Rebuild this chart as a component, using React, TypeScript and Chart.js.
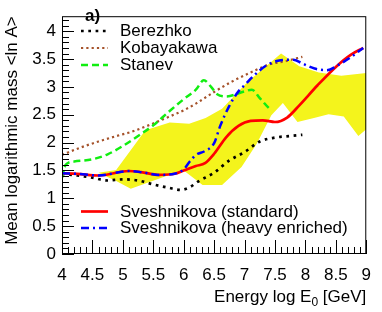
import React, { useEffect, useRef } from 'react';
import { Chart, registerables } from 'chart.js';

Chart.register(...registerables);

const xTicks = [4, 4.5, 5, 5.5, 6, 6.5, 7, 7.5, 8, 8.5, 9];
const yTicks = [0, 0.5, 1, 1.5, 2, 2.5, 3, 3.5, 4];
const X_MIN = 4;
const X_MAX = 9;
const Y_MIN = 0;
const Y_MAX = 4.27;

const xTitleMain = 'Energy log E';
const xTitleSub = '0';
const xTitleEnd = ' [GeV]';
const yTitle = 'Mean logarithmic mass <ln A>';
const panelLabel = 'a)';

// Yellow band (upper edge, lower edge)
const bandUpperX = [4.6, 4.89, 5.37, 5.77, 6.09, 6.36, 6.63, 7.04, 7.6, 7.9, 8.22, 8.59, 9.0];
const bandUpperY = [1.46, 1.51, 2.22, 2.36, 2.34, 2.44, 2.61, 3.08, 3.6, 3.37, 3.26, 3.2, 3.25];
const bandLowerX = [4.6, 4.89, 5.13, 5.99, 6.31, 6.63, 6.95, 7.2, 7.44, 7.63, 7.87, 8.14, 8.38, 8.63, 8.87, 9.0];
const bandLowerY = [1.46, 1.31, 1.17, 1.51, 1.24, 1.24, 1.56, 1.98, 2.49, 2.71, 2.37, 2.44, 2.51, 2.47, 2.12, 2.24];

// Berezhko
const berezhkoX = [4.0, 4.25, 4.5, 4.75, 5.0, 5.25, 5.5, 5.75, 5.95, 6.1, 6.25, 6.5, 6.75, 7.0, 7.25, 7.5, 7.75, 7.95];
const berezhkoY = [1.44, 1.41, 1.37, 1.32, 1.34, 1.32, 1.25, 1.19, 1.15, 1.2, 1.31, 1.46, 1.68, 1.83, 2.02, 2.09, 2.12, 2.14];

// Kobayakawa
const kobayakawaX = [4.0, 4.3, 4.6, 4.9, 5.13, 5.4, 5.77, 6.0, 6.2, 6.5, 6.8, 7.1, 7.4, 7.7, 7.95];
const kobayakawaY = [1.78, 1.91, 2.02, 2.12, 2.19, 2.3, 2.47, 2.58, 2.7, 2.91, 3.1, 3.26, 3.4, 3.47, 3.54];

// Stanev
const stanevX = [4.0, 4.06, 4.2, 4.5, 4.75, 5.0, 5.25, 5.5, 5.75, 6.0, 6.2, 6.33, 6.45, 6.55, 6.7, 7.0, 7.12, 7.25, 7.4, 7.45];
const stanevY = [1.37, 1.6, 1.66, 1.7, 1.79, 1.94, 2.12, 2.31, 2.55, 2.78, 2.95, 3.12, 3.0, 2.87, 2.83, 2.92, 2.95, 2.8, 2.62, 2.58];

// Sveshnikova (standard)
const standardX = [4.0, 4.25, 4.6, 5.1, 5.3, 5.6, 5.85, 6.0, 6.2, 6.35, 6.5, 6.7, 6.9, 7.1, 7.3, 7.5, 7.7, 7.9, 8.2, 8.5, 8.75, 8.95];
const standardY = [1.45, 1.44, 1.41, 1.49, 1.47, 1.42, 1.44, 1.5, 1.58, 1.63, 1.8, 2.1, 2.3, 2.39, 2.4, 2.37, 2.45, 2.67, 3.03, 3.36, 3.58, 3.7];

// Sveshnikova (heavy enriched)
const heavyX = [4.0, 4.25, 4.6, 5.1, 5.3, 5.6, 5.85, 6.0, 6.1, 6.2, 6.35, 6.5, 6.6, 6.75, 6.9, 7.0, 7.15, 7.35, 7.55, 7.8, 7.95, 8.15, 8.35, 8.55, 8.7, 8.95];
const heavyY = [1.45, 1.44, 1.41, 1.49, 1.47, 1.42, 1.44, 1.52, 1.66, 1.78, 1.85, 1.99, 2.3, 2.66, 2.92, 3.03, 3.2, 3.38, 3.47, 3.49, 3.42, 3.33, 3.3, 3.4, 3.5, 3.7];

const FONT = '"Liberation Sans", Arial, Helvetica, sans-serif';

const styles = {
  berezhko: { color: '#000000', width: 2.7, dash: [2.7, 4.6] },
  kobayakawa: { color: '#a5522a', width: 2.2, dash: [2.2, 3.1] },
  stanev: { color: '#11ee11', width: 2.5, dash: [7, 4] },
  standard: { color: '#ff0000', width: 2.7, dash: [] as number[] },
  heavy: { color: '#0000ff', width: 2.5, dash: [8, 4, 2, 4] },
};

const legendTop = [
  { label: 'Berezhko', style: styles.berezhko, y: 31 },
  { label: 'Kobayakawa', style: styles.kobayakawa, y: 48 },
  { label: 'Stanev', style: styles.stanev, y: 65 },
];
const legendBottom = [
  { label: 'Sveshnikova (standard)', style: styles.standard, y: 211.5 },
  { label: 'Sveshnikova (heavy enriched)', style: styles.heavy, y: 228 },
];

const zip = (xs: number[], ys: number[]) => xs.map((x, i) => ({ x, y: ys[i] }));
const fmt = (v: any) => String(Number(v));

const framePlugin = {
  id: 'rootFrame',
  afterDatasetsDraw(chart: any) {
    const { ctx, chartArea } = chart;
    const xs = chart.scales.x;
    const ys = chart.scales.y;
    ctx.save();
    ctx.strokeStyle = '#000';
    ctx.lineWidth = 1;
    ctx.setLineDash([]);
    ctx.strokeRect(chartArea.left + 0.5, chartArea.top + 0.5, chartArea.right - chartArea.left - 1, chartArea.bottom - chartArea.top - 1);
    for (let i = 0; i <= 50; i++) {
      const v = X_MIN + i * 0.1;
      const px = Math.round(xs.getPixelForValue(v)) + 0.5;
      const len = i % 5 === 0 ? 14 : 7;
      ctx.beginPath();
      ctx.moveTo(px, chartArea.bottom);
      ctx.lineTo(px, chartArea.bottom - len);
      ctx.stroke();
    }
    for (let i = 0; i <= 42; i++) {
      const v = Y_MIN + i * 0.1;
      const py = Math.round(ys.getPixelForValue(v)) + 0.5;
      const len = i % 5 === 0 ? 12 : 7;
      ctx.beginPath();
      ctx.moveTo(chartArea.left, py);
      ctx.lineTo(chartArea.left + len, py);
      ctx.stroke();
    }
    ctx.restore();
  },
  afterDraw(chart: any) {
    const { ctx, chartArea } = chart;
    ctx.save();
    ctx.fillStyle = '#000';
    ctx.save();
    ctx.translate(16.5, chartArea.top);
    ctx.rotate(-Math.PI / 2);
    ctx.font = `17px ${FONT}`;
    ctx.textAlign = 'right';
    ctx.textBaseline = 'alphabetic';
    ctx.fillText(yTitle, 0, 0);
    ctx.restore();
    ctx.textBaseline = 'alphabetic';
    ctx.textAlign = 'left';
    ctx.font = `17px ${FONT}`;
    const w1 = ctx.measureText(xTitleMain).width;
    const w3 = ctx.measureText(xTitleEnd).width;
    ctx.font = `12px ${FONT}`;
    const w2 = ctx.measureText(xTitleSub).width;
    const baseY = 301.5;
    const x0 = chartArea.right - (w1 + w2 + w3);
    ctx.font = `17px ${FONT}`;
    ctx.fillText(xTitleMain, x0, baseY);
    ctx.font = `12px ${FONT}`;
    ctx.fillText(xTitleSub, x0 + w1, baseY + 4);
    ctx.font = `17px ${FONT}`;
    ctx.fillText(xTitleEnd, x0 + w1 + w2, baseY);
    ctx.font = `bold 17px ${FONT}`;
    ctx.fillText(panelLabel, 85, 21);
    const drawEntry = (e: any) => {
      ctx.save();
      ctx.strokeStyle = e.style.color;
      ctx.lineWidth = e.style.width;
      ctx.setLineDash(e.style.dash);
      ctx.beginPath();
      ctx.moveTo(81, e.y);
      ctx.lineTo(108, e.y);
      ctx.stroke();
      ctx.restore();
      ctx.font = `17px ${FONT}`;
      ctx.textBaseline = 'middle';
      ctx.fillText(e.label, 120, e.y + 0.5);
    };
    legendTop.forEach(drawEntry);
    legendBottom.forEach(drawEntry);
    ctx.restore();
  },
};

function lineDs(label: string, xs: number[], ys: number[], st: any, order: number) {
  return {
    label,
    data: zip(xs, ys),
    showLine: true,
    borderColor: st.color,
    borderWidth: st.width,
    borderDash: st.dash,
    pointRadius: 0,
    fill: false,
    cubicInterpolationMode: 'monotone',
    order,
  } as any;
}

export default function App() {
  const ref = useRef<HTMLCanvasElement | null>(null);
  useEffect(() => {
    document.body.style.margin = '0';
    const canvas = ref.current;
    if (!canvas) return;
    const bandPoly = [
      ...zip(bandUpperX, bandUpperY),
      ...zip(bandLowerX, bandLowerY).reverse(),
    ];
    const chart = new Chart(canvas, {
      type: 'scatter',
      data: {
        datasets: [
          lineDs('Sveshnikova (heavy enriched)', heavyX, heavyY, styles.heavy, 0),
          lineDs('Sveshnikova (standard)', standardX, standardY, styles.standard, 1),
          lineDs('Stanev', stanevX, stanevY, styles.stanev, 2),
          lineDs('Kobayakawa', kobayakawaX, kobayakawaY, styles.kobayakawa, 3),
          lineDs('Berezhko', berezhkoX, berezhkoY, styles.berezhko, 4),
          {
            label: 'band',
            data: bandPoly,
            showLine: true,
            borderWidth: 0,
            borderColor: 'rgba(0,0,0,0)',
            backgroundColor: '#f4f41c',
            pointRadius: 0,
            fill: 'shape',
            tension: 0,
            order: 10,
          } as any,
        ],
      },
      options: {
        animation: false,
        responsive: false,
        devicePixelRatio: 1,
        layout: { padding: { top: 2, right: 6, left: 0, bottom: 0 } },
        plugins: { legend: { display: false }, tooltip: { enabled: false } },
        scales: {
          x: {
            type: 'linear',
            min: X_MIN,
            max: X_MAX,
            afterBuildTicks: (s: any) => { s.ticks = xTicks.map((v) => ({ value: v })); },
            afterFit: (s: any) => { s.height = 58; },
            grid: { display: false, drawTicks: false },
            border: { display: false },
            ticks: { color: '#000', font: { family: FONT, size: 17 }, padding: 11, maxRotation: 0, autoSkip: false, callback: fmt },
          },
          y: {
            type: 'linear',
            min: Y_MIN,
            max: Y_MAX,
            afterBuildTicks: (s: any) => { s.ticks = yTicks.map((v) => ({ value: v })); },
            afterFit: (s: any) => { s.width = 62; },
            grid: { display: false, drawTicks: false },
            border: { display: false },
            ticks: { color: '#000', font: { family: FONT, size: 17 }, padding: 6, autoSkip: false, callback: fmt },
          },
        },
      },
      plugins: [framePlugin],
    });
    return () => chart.destroy();
  }, []);
  return (
    <div style={{ width: 382, height: 312 }}>
      <canvas ref={ref} width={382} height={312} style={{ width: 382, height: 312, display: 'block' }} />
    </div>
  );
}
